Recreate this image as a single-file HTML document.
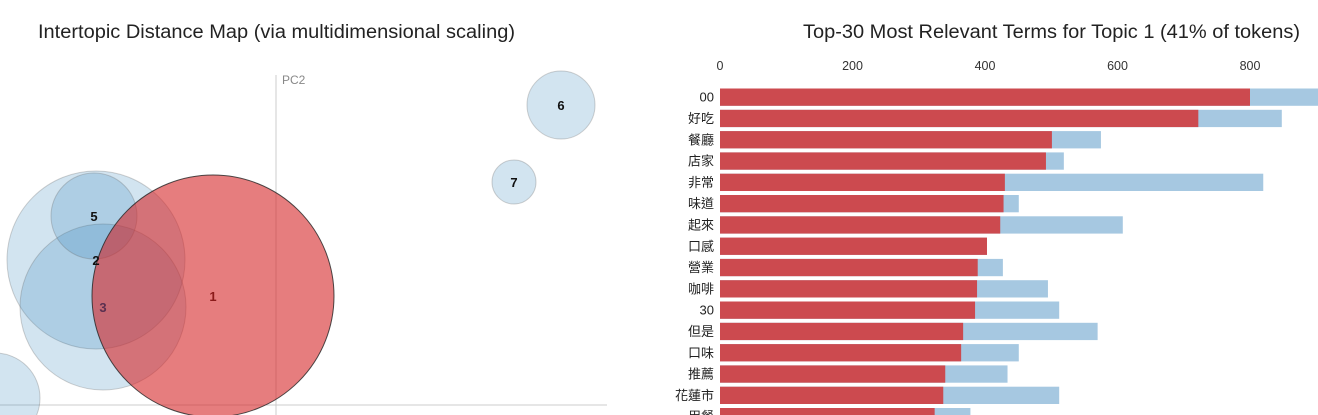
<!DOCTYPE html>
<html><head><meta charset="utf-8"><style>
html,body{margin:0;padding:0;background:#fff;width:1318px;height:415px;overflow:hidden}
svg{display:block;overflow:hidden;font-family:"Liberation Sans","Noto Sans CJK TC",sans-serif}
</style></head><body>
<svg id="c" width="1318" height="415">
<text x="38" y="38" font-size="19" fill="#222" textLength="477" lengthAdjust="spacingAndGlyphs">Intertopic Distance Map (via multidimensional scaling)</text>
<text x="1300" y="38" font-size="19" fill="#222" text-anchor="end" textLength="497" lengthAdjust="spacingAndGlyphs">Top-30 Most Relevant Terms for Topic 1 (41% of tokens)</text>
<line x1="276" y1="75" x2="276" y2="415" stroke="#ccc"/>
<line x1="0" y1="405" x2="607" y2="405" stroke="#ccc"/>
<text x="282" y="84" font-size="12" fill="#888">PC2</text>
<g id="circles"></g>
<g id="bars"></g>
</svg>
<script>
var topicIds=["4","2","3","5","1","6","7"];
var topicX=[-5,96,103,94,213,561,514];
var topicY=[398,260,307,216,296,105,182];
var topicR=[45,89,83,43,121,34,22];
var terms=["00","好吃","餐廳","店家","非常","味道","起來","口感","營業","咖啡","30","但是","口味","推薦","花蓮市","用餐"];
var topicVals=[800,722,501,492,430,428,423,403,389,388,385,367,364,340,337,324];
var totalVals=[920,848,575,519,820,451,608,403,427,495,512,570,451,434,512,378];
var ticks=[0,200,400,600,800];
var NS="http://www.w3.org/2000/svg";
function mk(t,a,p){var e=document.createElementNS(NS,t);for(var k in a)e.setAttribute(k,a[k]);p.appendChild(e);return e;}
var cg=document.getElementById('circles');
for(var i=0;i<topicIds.length;i++){
  var sel=topicIds[i]==="1";
  var c=mk('circle',{cx:topicX[i],cy:topicY[i],r:topicR[i],fill:sel?'#d62728':'#1f77b4','fill-opacity':sel?0.6:0.2,stroke:sel?'#222':'#666','stroke-opacity':sel?0.8:0.3},cg);
  
  
}
for(var i=0;i<topicIds.length;i++){
  if(topicIds[i]==="4")continue;
  var t=mk('text',{x:topicX[i],y:topicY[i]+5,'font-size':13,'font-weight':'bold','text-anchor':'middle',fill:topicIds[i]==="1"?'#8b1a1a':(topicIds[i]==="3"?'#5a3050':'#111')},cg);
  t.textContent=topicIds[i];
  
  
}
var bg=document.getElementById('bars');
var x0=720,k=0.6625,y0=88.5,step=21.3,h=17.3;
function xs(v){return x0+v*k;}
for(var j=0;j<ticks.length;j++){
  var t=mk('text',{x:xs(ticks[j]),y:70,'font-size':12.5,'text-anchor':'middle',fill:'#333'},bg);
  t.textContent=ticks[j];
  
  
}
for(var i=0;i<terms.length;i++){
  var y=y0+i*step;
  var b=mk('rect',{x:x0,y:y,width:xs(totalVals[i])-x0,height:h,fill:'#a6c8e1'},bg);
  
  
  var r=mk('rect',{x:x0,y:y,width:xs(topicVals[i])-x0,height:h,fill:'#cc4a4f'},bg);
  
  
  var l=mk('text',{x:714,y:y+h/2+4.5,'font-size':13,'text-anchor':'end',fill:'#222'},bg);
  l.textContent=terms[i];
  
  
}
</script>
</body></html>
